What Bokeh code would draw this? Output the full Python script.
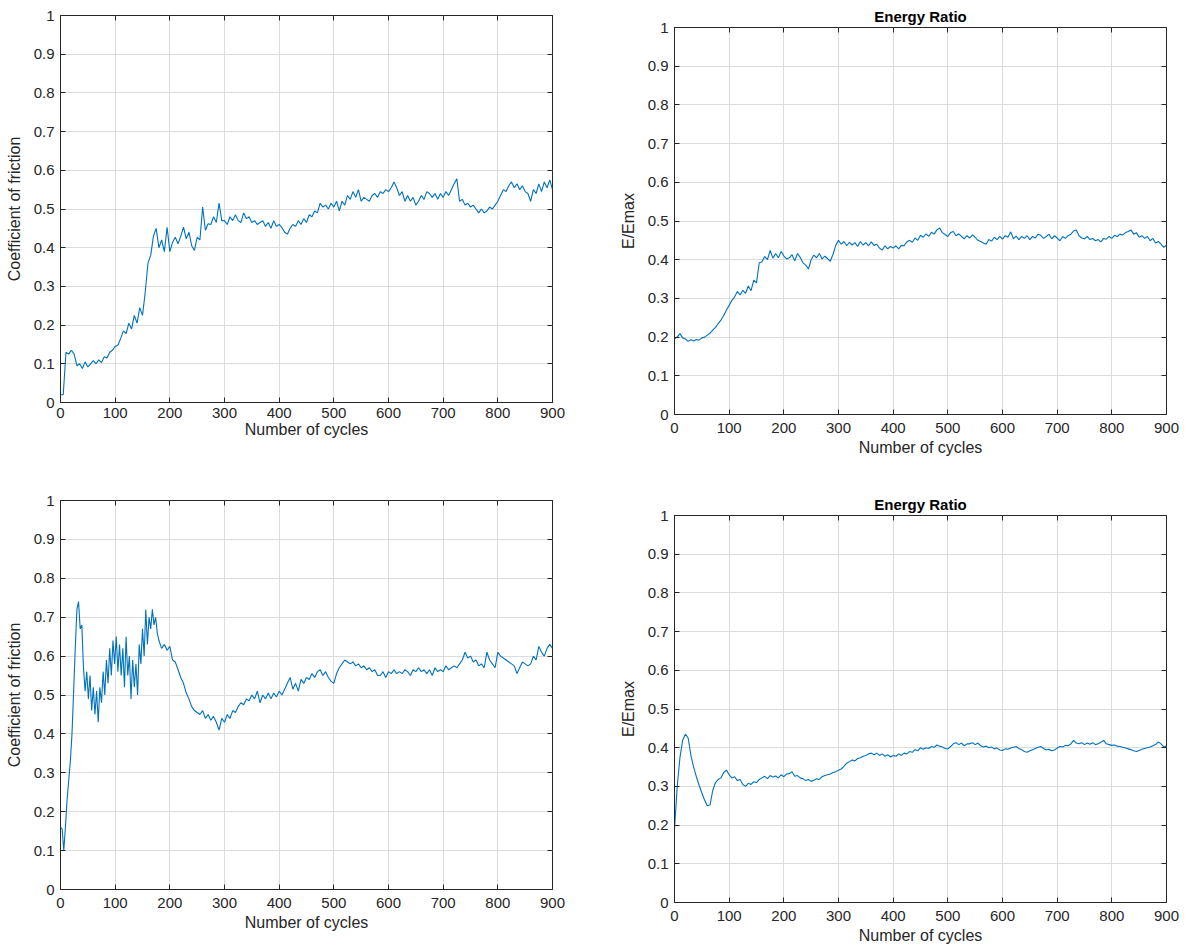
from bokeh.plotting import figure
from bokeh.layouts import row, column
from bokeh.models import Range1d, FixedTicker, LinearAxis
from bokeh.embed import file_html
from bokeh.resources import INLINE

# ---------------- data ----------------
# top-left: coefficient of friction, sampled every 5 cycles (0..900)
cof_top = [
    0.02, 0.02, 0.13, 0.125, 0.135, 0.125, 0.095, 0.10, 0.088, 0.105,
    0.092, 0.10, 0.108, 0.10, 0.11, 0.103, 0.118, 0.115, 0.13, 0.135,
    0.145, 0.148, 0.165, 0.185, 0.178, 0.205, 0.19, 0.225, 0.205, 0.245,
    0.225, 0.285, 0.36, 0.38, 0.43, 0.45, 0.40, 0.42, 0.39, 0.453,
    0.39, 0.414, 0.427, 0.41, 0.43, 0.453, 0.423, 0.44, 0.405, 0.393,
    0.427, 0.42, 0.505, 0.445, 0.462, 0.46, 0.48, 0.465, 0.515, 0.47,
    0.47, 0.46, 0.48, 0.47, 0.485, 0.47, 0.465, 0.49, 0.475, 0.48,
    0.465, 0.47, 0.46, 0.465, 0.47, 0.455, 0.465, 0.45, 0.47, 0.455,
    0.46, 0.452, 0.44, 0.435, 0.45, 0.46, 0.455, 0.47, 0.46, 0.475,
    0.465, 0.485, 0.48, 0.495, 0.49, 0.515, 0.505, 0.51, 0.50, 0.515,
    0.505, 0.52, 0.495, 0.52, 0.51, 0.535, 0.525, 0.545, 0.53, 0.55,
    0.52, 0.53, 0.525, 0.52, 0.535, 0.54, 0.53, 0.545, 0.54, 0.55,
    0.545, 0.555, 0.57, 0.555, 0.535, 0.545, 0.52, 0.535, 0.52, 0.53,
    0.51, 0.52, 0.535, 0.525, 0.545, 0.54, 0.53, 0.54, 0.525, 0.54,
    0.53, 0.545, 0.535, 0.55, 0.565, 0.578, 0.52, 0.525, 0.51, 0.515,
    0.505, 0.51, 0.50, 0.49, 0.50, 0.49, 0.495, 0.505, 0.50, 0.51,
    0.52, 0.535, 0.55, 0.545, 0.56, 0.57, 0.555, 0.565, 0.55, 0.56,
    0.545, 0.54, 0.52, 0.55, 0.54, 0.565, 0.545, 0.57, 0.555, 0.575,
    0.55,
]

# top-right: energy ratio, every 5 cycles (0..900)
ratio_top = [
    0.196, 0.200, 0.209, 0.198, 0.195, 0.189, 0.193, 0.190, 0.194, 0.192,
    0.198, 0.200, 0.205, 0.210, 0.218, 0.225, 0.235, 0.244, 0.256, 0.270,
    0.282, 0.295, 0.304, 0.318, 0.309, 0.321, 0.313, 0.332, 0.320, 0.347,
    0.340, 0.392, 0.394, 0.408, 0.400, 0.424, 0.404, 0.416, 0.405, 0.421,
    0.410, 0.402, 0.405, 0.413, 0.397, 0.416, 0.406, 0.392, 0.386, 0.376,
    0.400, 0.412, 0.405, 0.416, 0.402, 0.409, 0.403, 0.396, 0.414, 0.437,
    0.450, 0.440, 0.447, 0.436, 0.445, 0.438, 0.444, 0.434, 0.447, 0.438,
    0.444, 0.436, 0.446, 0.437, 0.440, 0.430, 0.425, 0.436, 0.428, 0.434,
    0.430, 0.436, 0.428, 0.437, 0.436, 0.446, 0.450, 0.445, 0.456, 0.450,
    0.463, 0.458, 0.467, 0.460, 0.471, 0.466, 0.477, 0.482, 0.470, 0.465,
    0.460, 0.470, 0.473, 0.462, 0.467, 0.460, 0.454, 0.462, 0.456, 0.464,
    0.458, 0.450, 0.447, 0.443, 0.440, 0.452, 0.448, 0.458, 0.452, 0.460,
    0.453, 0.462, 0.458, 0.472, 0.454, 0.461, 0.452, 0.460, 0.455, 0.462,
    0.452, 0.460, 0.456, 0.466, 0.463, 0.455, 0.460, 0.466, 0.454, 0.462,
    0.456, 0.449, 0.460, 0.455, 0.462, 0.466, 0.474, 0.477, 0.462, 0.456,
    0.454, 0.460, 0.452, 0.455, 0.449, 0.452, 0.446, 0.455, 0.453, 0.460,
    0.455, 0.463, 0.460, 0.466, 0.464, 0.470, 0.473, 0.477, 0.466, 0.470,
    0.458, 0.462, 0.455, 0.460, 0.449, 0.455, 0.443, 0.447, 0.440, 0.432,
    0.438,
]

# bottom-left: coefficient of friction, every 3 cycles (0..177) ...
cof_bottom_early = [
    0.16, 0.155, 0.10, 0.16, 0.23, 0.28, 0.33, 0.40, 0.51, 0.62,
    0.72, 0.74, 0.67, 0.68, 0.57, 0.51, 0.56, 0.49, 0.55, 0.46,
    0.52, 0.45, 0.51, 0.43, 0.52, 0.48, 0.56, 0.50, 0.59, 0.53,
    0.62, 0.55, 0.64, 0.58, 0.65, 0.56, 0.63, 0.55, 0.62, 0.52,
    0.65, 0.55, 0.60, 0.49, 0.59, 0.52, 0.58, 0.50, 0.63, 0.58,
    0.67, 0.60, 0.72, 0.63, 0.70, 0.67, 0.72, 0.68, 0.70, 0.66,
]
# ... then every 5 cycles (180..900)
cof_bottom_late = [
    0.64, 0.62, 0.63, 0.615, 0.625, 0.59, 0.585, 0.565, 0.545, 0.53,
    0.505, 0.49, 0.47, 0.46, 0.455, 0.45, 0.46, 0.44, 0.45, 0.435,
    0.445, 0.43, 0.41, 0.44, 0.43, 0.45, 0.44, 0.46, 0.455, 0.47,
    0.48, 0.475, 0.49, 0.485, 0.50, 0.49, 0.51, 0.48, 0.50, 0.49,
    0.505, 0.49, 0.505, 0.495, 0.51, 0.50, 0.515, 0.53, 0.545, 0.515,
    0.53, 0.51, 0.54, 0.53, 0.545, 0.54, 0.555, 0.545, 0.56, 0.565,
    0.55, 0.56, 0.545, 0.535, 0.53, 0.555, 0.57, 0.58, 0.59, 0.585,
    0.58, 0.585, 0.575, 0.58, 0.57, 0.575, 0.565, 0.57, 0.56, 0.565,
    0.55, 0.55, 0.56, 0.545, 0.56, 0.555, 0.565, 0.555, 0.56, 0.555,
    0.565, 0.56, 0.55, 0.565, 0.56, 0.57, 0.56, 0.565, 0.555, 0.565,
    0.55, 0.57, 0.56, 0.565, 0.56, 0.575, 0.565, 0.57, 0.575, 0.57,
    0.58, 0.59, 0.61, 0.595, 0.60, 0.585, 0.59, 0.575, 0.58, 0.57,
    0.61, 0.59, 0.58, 0.57, 0.61, 0.60, 0.595, 0.59, 0.585, 0.58,
    0.575, 0.555, 0.57, 0.585, 0.58, 0.575, 0.58, 0.60, 0.59, 0.625,
    0.61, 0.60, 0.62, 0.63, 0.62,
]

# bottom-right: energy ratio, every 5 cycles (0..900)
ratio_bottom = [
    0.19, 0.30, 0.375, 0.42, 0.435, 0.425, 0.38, 0.35, 0.325, 0.303,
    0.283, 0.265, 0.25, 0.252, 0.29, 0.31, 0.318, 0.322, 0.336, 0.342,
    0.33, 0.322, 0.325, 0.315, 0.318, 0.305, 0.30, 0.308, 0.305, 0.312,
    0.31, 0.318, 0.322, 0.326, 0.32, 0.328, 0.324, 0.327, 0.322, 0.33,
    0.325, 0.332, 0.333, 0.338, 0.326, 0.328, 0.322, 0.32, 0.315, 0.318,
    0.313, 0.316, 0.32, 0.318, 0.325, 0.328, 0.33, 0.332, 0.336, 0.338,
    0.342, 0.345, 0.352, 0.36, 0.364, 0.368, 0.366, 0.372, 0.374, 0.378,
    0.38, 0.384, 0.386, 0.382, 0.386, 0.38, 0.384, 0.378, 0.382, 0.376,
    0.38, 0.378, 0.384, 0.38, 0.386, 0.384, 0.39, 0.388, 0.395, 0.392,
    0.40, 0.396, 0.40, 0.398, 0.403, 0.401, 0.407, 0.404, 0.402, 0.398,
    0.397, 0.403, 0.41, 0.413, 0.408, 0.412, 0.405, 0.41, 0.41, 0.413,
    0.408, 0.412, 0.405, 0.402, 0.404, 0.40, 0.402, 0.397, 0.399, 0.394,
    0.393, 0.397, 0.396, 0.399, 0.401, 0.403, 0.398, 0.395, 0.39, 0.388,
    0.392, 0.395, 0.398, 0.401, 0.403, 0.398, 0.394, 0.396, 0.392, 0.394,
    0.399, 0.403, 0.402, 0.406, 0.405, 0.41, 0.419, 0.412, 0.41, 0.413,
    0.408, 0.412, 0.409, 0.413, 0.408, 0.41, 0.414, 0.419, 0.41, 0.408,
    0.406, 0.407, 0.404, 0.403, 0.401, 0.399, 0.397, 0.395, 0.392, 0.39,
    0.393, 0.396, 0.398, 0.40, 0.402, 0.405, 0.408, 0.415, 0.41, 0.402,
    0.404,
]

cycles_5 = list(range(0, 901, 5))
cycles_early = list(range(0, 180, 3))
cycles_late = list(range(180, 901, 5))

x_ticks = [0, 100, 200, 300, 400, 500, 600, 700, 800, 900]
y_ticks = [0.0, 0.1, 0.2, 0.3, 0.4, 0.5, 0.6, 0.7, 0.8, 0.9, 1.0]
y_tick_labels = ["0", "0.1", "0.2", "0.3", "0.4", "0.5", "0.6", "0.7", "0.8", "0.9", "1"]

x_label = "Number of cycles"
cof_label = "Coefficient of friction"
ratio_label = "E/Emax"
ratio_title = "Energy Ratio"

assert len(cof_top) == len(cycles_5)
assert len(ratio_top) == len(cycles_5)
assert len(ratio_bottom) == len(cycles_5)
assert len(cof_bottom_early) == len(cycles_early)
assert len(cof_bottom_late) == len(cycles_late)

# ---------------- style ----------------
FONT = "Liberation Sans"
AXIS_COLOR = "#262626"
GRID_COLOR = "#dcdcdc"
LINE_COLOR = "#0072bd"


def box_axis(ticks):
    # tick-only axis for the right / top edges (MATLAB "box on" look)
    return LinearAxis(ticker=FixedTicker(ticks=ticks),
                      major_label_text_color=None,
                      major_label_standoff=0,
                      major_tick_in=5, major_tick_out=0,
                      major_tick_line_color=AXIS_COLOR, axis_line_color=None,
                      minor_tick_line_color=None)


def make_fig(x, y, ylabel, title, width, height, left, right, top, bottom,
             tick_standoff, label_standoff):
    p = figure(width=width, height=height,
               x_range=Range1d(0, 900), y_range=Range1d(0, 1),
               output_backend="svg", toolbar_location=None,
               min_border_left=left, min_border_right=right,
               min_border_top=top, min_border_bottom=bottom,
               title=title)
    p.background_fill_color = "white"
    p.border_fill_color = "white"
    p.outline_line_color = AXIS_COLOR
    p.outline_line_width = 1

    p.line(x, y, line_color=LINE_COLOR, line_width=1.1)

    p.xaxis.ticker = FixedTicker(ticks=x_ticks)
    p.yaxis.ticker = FixedTicker(ticks=y_ticks)
    p.yaxis.major_label_overrides = dict(zip(y_ticks, y_tick_labels))
    p.xaxis.axis_label = x_label
    p.yaxis.axis_label = ylabel

    for ax in (p.xaxis, p.yaxis):
        ax.axis_line_color = AXIS_COLOR
        ax.major_tick_line_color = AXIS_COLOR
        ax.major_tick_in = 5
        ax.major_tick_out = 0
        ax.minor_tick_line_color = None
        ax.major_label_text_font = FONT
        ax.major_label_text_font_size = "15px"
        ax.major_label_text_color = AXIS_COLOR
        ax.axis_label_text_font = FONT
        ax.axis_label_text_font_size = "16px"
        ax.axis_label_text_font_style = "normal"
        ax.axis_label_text_color = AXIS_COLOR
    p.xaxis.major_label_standoff = tick_standoff
    p.xaxis.axis_label_standoff = label_standoff
    p.yaxis.major_label_standoff = 6
    p.yaxis.axis_label_standoff = 8

    p.add_layout(box_axis(y_ticks), "right")
    p.add_layout(box_axis(x_ticks), "above")

    p.xgrid.ticker = FixedTicker(ticks=x_ticks)
    p.ygrid.ticker = FixedTicker(ticks=y_ticks)
    p.grid.grid_line_color = GRID_COLOR
    p.grid.grid_line_width = 1

    if title is not None:
        p.title.text_font = FONT
        p.title.text_font_size = "15px"
        p.title.text_font_style = "bold"
        p.title.text_color = "black"
        p.title.align = "center"
        p.title.standoff = 5
    return p


tl = make_fig(cycles_5, cof_top, cof_label, None,
              614, 487, 60, 62, 15, 85, 5, 0)
bl = make_fig(cycles_early + cycles_late, cof_bottom_early + cof_bottom_late,
              cof_label, None, 614, 465, 60, 62, 13, 63, 8, 3)
tr = make_fig(cycles_5, ratio_top, ratio_label, ratio_title,
              577, 488, 60, 25, 27, 74, 8, 3)
br = make_fig(cycles_5, ratio_bottom, ratio_label, ratio_title,
              577, 464, 60, 25, 27, 50, 8, 3)

layout = row(column(tl, bl), column(tr, br))

open("out.html", "w").write(file_html(layout, INLINE))
